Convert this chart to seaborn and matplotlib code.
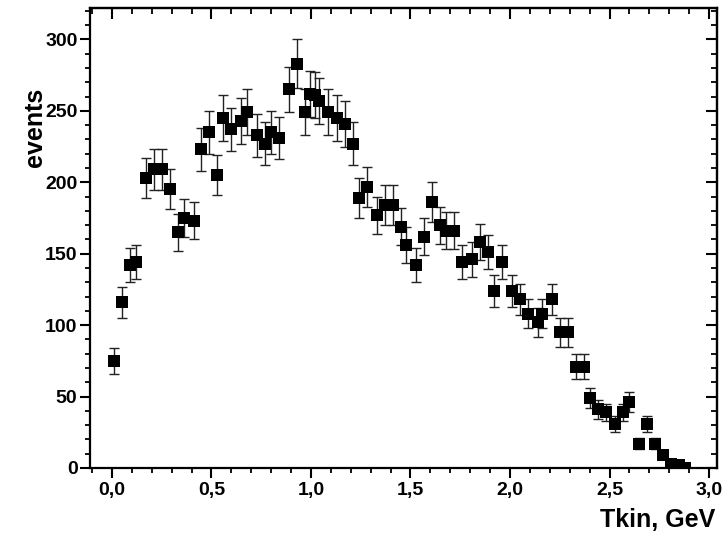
import matplotlib
matplotlib.use("Agg")
import matplotlib.pyplot as plt
import seaborn as sns
import pandas as pd
from matplotlib.ticker import MultipleLocator, FuncFormatter

# Data
tkin = [0.01, 0.05, 0.09, 0.12, 0.17, 0.21, 0.25, 0.29, 0.33, 0.36,
        0.41, 0.45, 0.49, 0.53, 0.56, 0.60, 0.65, 0.68, 0.73, 0.77,
        0.80, 0.84, 0.89, 0.93, 0.97, 0.995, 1.02, 1.04, 1.085, 1.13,
        1.17, 1.21, 1.24, 1.28, 1.33, 1.37, 1.41, 1.45, 1.48, 1.53,
        1.57, 1.61, 1.65, 1.68, 1.72, 1.76, 1.81, 1.85, 1.89, 1.92,
        1.96, 2.01, 2.05, 2.09, 2.14, 2.16, 2.21, 2.25, 2.29, 2.33,
        2.37, 2.40, 2.44, 2.48, 2.53, 2.57, 2.60, 2.65, 2.69, 2.73,
        2.77, 2.81, 2.85, 2.88]
events = [75, 116, 142, 144, 203, 209, 209, 195, 165, 175,
          173, 223, 235, 205, 245, 237, 243, 249, 233, 227,
          235, 231, 265, 283, 249, 262, 261, 257, 249, 245,
          241, 227, 189, 197, 177, 184, 184, 169, 156, 142,
          162, 186, 170, 166, 166, 144, 146, 158, 151, 124,
          144, 124, 118, 108, 102, 108, 118, 95, 95, 71,
          71, 49, 41, 39, 31, 39, 46, 17, 31, 17,
          9, 3, 2, 0]
errors = [9, 11, 12, 12, 14, 14.5, 14.5, 14, 13, 13,
          13, 15, 15, 14, 16, 15, 16, 16, 15, 15,
          15, 15, 16, 17, 16, 16, 16, 16, 16, 16,
          16, 15, 14, 14, 13, 14, 14, 13, 12.5, 12,
          13, 14, 13, 13, 13, 12, 12, 12.5, 12, 11,
          12, 11, 11, 10, 10, 10, 11, 10, 10, 8.5,
          8.5, 7, 6.5, 6, 5.5, 6, 7, 4, 5.5, 4,
          3, 2, 1.5, 0]

x_label = "Tkin, GeV"
y_label = "events"

df = pd.DataFrame({"tkin": tkin, "events": events, "err": errors})

sns.set_style("ticks")
plt.rcParams["font.family"] = ["Liberation Sans", "DejaVu Sans"]
plt.rcParams["font.weight"] = "bold"
plt.rcParams["text.color"] = "black"
plt.rcParams["axes.labelcolor"] = "black"

fig = plt.figure(figsize=(7.24, 5.40), dpi=100)
ax = fig.add_axes([90 / 724, 1 - 468 / 540, (717 - 90) / 724, (468 - 8) / 540])

ax.errorbar(df["tkin"], df["events"], yerr=df["err"], fmt="none",
            ecolor="#222222", elinewidth=1.0, capsize=3.5, capthick=1.0, zorder=2)
sns.scatterplot(data=df, x="tkin", y="events", marker="s", s=82,
                color="black", edgecolor="black", linewidth=0, ax=ax, zorder=3)

ax.set_xlim(-0.11, 3.04)
ax.set_ylim(0, 322)

ax.xaxis.set_major_locator(MultipleLocator(0.5))
ax.xaxis.set_minor_locator(MultipleLocator(0.1))
ax.yaxis.set_major_locator(MultipleLocator(50))
ax.yaxis.set_minor_locator(MultipleLocator(10))
ax.xaxis.set_major_formatter(FuncFormatter(lambda v, p: f"{v:.1f}".replace(".", ",")))
ax.yaxis.set_major_formatter(FuncFormatter(lambda v, p: f"{int(round(v))}"))

for sp in ax.spines.values():
    sp.set_linewidth(1.6)
    sp.set_color("black")

ax.tick_params(which="major", direction="out", length=7, width=1.5,
               labelsize=14, colors="black")
ax.tick_params(axis="x", which="major", pad=3)
ax.tick_params(axis="y", which="major", pad=2)
ax.tick_params(which="minor", direction="out", length=3.5, width=1.3, colors="black")
ax.tick_params(top=False, right=False)

# Inward ticks on top and right
secx = ax.secondary_xaxis("top")
secx.xaxis.set_major_locator(MultipleLocator(0.5))
secx.xaxis.set_minor_locator(MultipleLocator(0.1))
secx.tick_params(which="major", direction="in", length=8, width=1.5, labeltop=False, colors="black")
secx.tick_params(which="minor", direction="in", length=4, width=1.3, colors="black")
secx.spines["top"].set_linewidth(1.6)
secy = ax.secondary_yaxis("right")
secy.yaxis.set_major_locator(MultipleLocator(50))
secy.yaxis.set_minor_locator(MultipleLocator(10))
secy.tick_params(which="major", direction="in", length=8, width=1.5, labelright=False, colors="black")
secy.tick_params(which="minor", direction="in", length=4, width=1.3, colors="black")
secy.spines["right"].set_linewidth(1.6)

for lab in ax.get_xticklabels() + ax.get_yticklabels():
    lab.set_fontweight("bold")

ax.set_xlabel(x_label, fontsize=18, fontweight="bold", color="black")
ax.set_ylabel(y_label, fontsize=18, fontweight="bold", color="black")
ax.xaxis.set_label_coords(0.905, -0.088)
ax.yaxis.set_label_coords(-0.068, 0.74)

fig.savefig("out.png", dpi=100)
